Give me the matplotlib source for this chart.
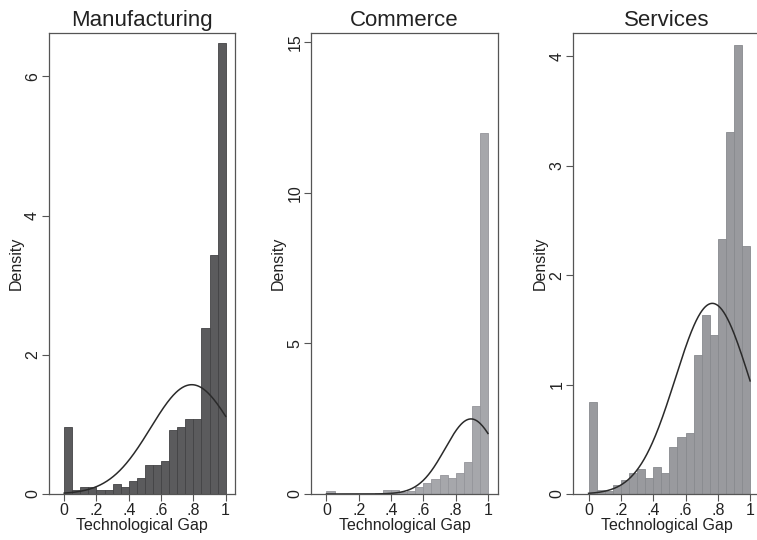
import numpy as np
import matplotlib
matplotlib.use("Agg")
import matplotlib.pyplot as plt

plt.rcParams["font.family"] = ["Liberation Sans", "DejaVu Sans"]

# histogram densities, 20 bins of width .05 on [0, 1]
bin_edges = [0.00, 0.05, 0.10, 0.15, 0.20, 0.25, 0.30, 0.35, 0.40, 0.45, 0.50,
             0.55, 0.60, 0.65, 0.70, 0.75, 0.80, 0.85, 0.90, 0.95, 1.00]

manufacturing_density = [0.96, 0.06, 0.10, 0.10, 0.06, 0.06, 0.14, 0.10, 0.18, 0.23,
                         0.42, 0.42, 0.47, 0.92, 0.96, 1.08, 1.08, 2.38, 3.44, 6.48]
commerce_density = [0.11, 0.0, 0.0, 0.0, 0.01, 0.01, 0.02, 0.14, 0.12, 0.06,
                    0.10, 0.23, 0.37, 0.50, 0.63, 0.54, 0.71, 1.07, 2.91, 12.0]
services_density = [0.84, 0.036, 0.03, 0.08, 0.13, 0.19, 0.23, 0.15, 0.25, 0.19,
                    0.43, 0.52, 0.56, 1.27, 1.64, 1.45, 2.33, 3.31, 4.10, 2.27]

# fitted normal overlay (mean, sd)
normal_mean = {"Manufacturing": 0.79, "Commerce": 0.895, "Services": 0.766}
normal_sd = {"Manufacturing": 0.254, "Commerce": 0.16, "Services": 0.229}

y_ticks = {"Manufacturing": [0, 2, 4, 6],
           "Commerce": [0, 5, 10, 15],
           "Services": [0, 1, 2, 3, 4]}
y_top = {"Manufacturing": 6.62, "Commerce": 15.3, "Services": 4.21}

x_ticks = [0, 0.2, 0.4, 0.6, 0.8, 1]
x_ticklabels = ["0", ".2", ".4", ".6", ".8", "1"]

panels = [
    ("Manufacturing", manufacturing_density, "#5b5b5d", "#434345", 0.0647),
    ("Commerce", commerce_density, "#a6a7ab", "#94959a", 0.4112),
    ("Services", services_density, "#999a9e", "#888a8e", 0.7575),
]

fig = plt.figure(figsize=(7.57, 5.40), dpi=100)
frame_color = "#555555"
curve_x = np.linspace(0, 1, 300)

for name, dens, fill, edge, left in panels:
    ax = fig.add_axes([left, 0.0852, 0.2462, 0.8531])
    ax.bar(bin_edges[:-1], dens, width=np.diff(bin_edges), align="edge",
           color=fill, edgecolor=edge, linewidth=0.6)
    mu, sd = normal_mean[name], normal_sd[name]
    pdf = np.exp(-0.5 * ((curve_x - mu) / sd) ** 2) / (sd * np.sqrt(2 * np.pi))
    ax.plot(curve_x, pdf, color="#2a2a2a", linewidth=1.1)

    ax.set_xlim(-0.094, 1.06)
    ax.set_ylim(0, y_top[name])
    ax.set_xticks(x_ticks)
    ax.set_xticklabels(x_ticklabels)
    ax.set_yticks(y_ticks[name])
    ax.set_yticklabels([str(t) for t in y_ticks[name]], rotation=90, va="center")
    ax.tick_params(axis="both", direction="out", length=5, width=0.8,
                   color=frame_color, labelsize=11.5, labelcolor="#222222", pad=1.5)
    for sp in ax.spines.values():
        sp.set_color(frame_color)
        sp.set_linewidth(0.9)
    ax.set_title(name, fontsize=16, color="#222222", pad=5)
    ax.set_xlabel("Technological Gap", fontsize=11.5, color="#222222", labelpad=0)
    ax.set_ylabel("Density", fontsize=11.5, color="#222222", labelpad=1)

fig.savefig("out.png", dpi=100, facecolor="white")
